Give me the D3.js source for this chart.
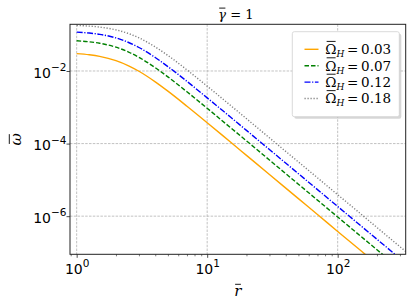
<!DOCTYPE html>
<html>
<head>
<meta charset="utf-8">
<script src="https://cdn.jsdelivr.net/npm/d3@7"></script>
<style>
  body { margin: 0; background: #fff; }
  svg { display: block; }
</style>
</head>
<body>
<svg id="chart" width="415" height="308"></svg>
<script>
// values (log-log)
const radii = [1, 1.25, 1.5, 2, 2.5, 3, 4, 5, 7, 10, 15, 20, 30, 50, 70, 100, 150, 200, 300, 350];
const omega003 = [0.0300, 0.0279, 0.0253, 0.0193, 0.0139, 0.00983, 0.00502, 0.00278, 0.00107, 3.76e-4, 1.12e-4, 4.74e-5, 1.41e-5, 3.04e-6, 1.11e-6, 3.8e-7, 1.13e-7, 4.75e-8, 1.41e-8, 8.9e-9];
const omega007 = [0.0680, 0.0637, 0.0581, 0.0453, 0.0332, 0.0238, 0.01234, 0.00689, 0.00267, 9.38e-4, 2.80e-4, 1.19e-4, 3.52e-5, 7.6e-6, 2.77e-6, 9.5e-7, 2.81e-7, 1.19e-7, 3.52e-8, 2.22e-8];
const omega012 = [0.1178, 0.1111, 0.1023, 0.0815, 0.0610, 0.0444, 0.0235, 0.01324, 0.00517, 1.82e-3, 5.46e-4, 2.31e-4, 6.85e-5, 1.48e-5, 5.39e-6, 1.85e-6, 5.48e-7, 2.31e-7, 6.85e-8, 4.31e-8];
const omega018 = [0.1797, 0.1722, 0.1620, 0.1359, 0.1074, 0.0818, 0.0460, 0.0268, 0.01072, 3.82e-3, 1.15e-3, 4.86e-4, 1.44e-4, 3.12e-5, 1.14e-5, 3.9e-6, 1.16e-6, 4.87e-7, 1.44e-7, 9.1e-8];
const omegaLabels = ["0.03", "0.07", "0.12", "0.18"];

const xMajor = [1, 10, 100];
const xMajorExp = ["0", "1", "2"];
const yMajor = [1e-2, 1e-4, 1e-6];
const yMajorExp = ["\u22122", "\u22124", "\u22126"];

const series = [
  { label: omegaLabels[0], values: omega003, color: "#ffa500", dash: null },
  { label: omegaLabels[1], values: omega007, color: "#008000", dash: "4.5,2" },
  { label: omegaLabels[2], values: omega012, color: "#0000ff", dash: "6,1.6,1.2,1.6" },
  { label: omegaLabels[3], values: omega018, color: "#808080", dash: "1.2,1.8" }
];

const svg = d3.select("#chart");
const m = { left: 70, top: 24.3, right: 405.7, bottom: 254.3 };
const plotW = m.right - m.left, plotH = m.bottom - m.top;

const x = d3.scaleLog().domain([0.889, 332]).range([m.left, m.right]);
const y = d3.scaleLog().domain([8.9e-8, 0.1934]).range([m.bottom, m.top]);

svg.append("defs").append("clipPath").attr("id", "plotclip")
  .append("rect").attr("x", m.left).attr("y", m.top).attr("width", plotW).attr("height", plotH);

// grid
const grid = svg.append("g").attr("stroke", "#a8a8a8").attr("stroke-width", 0.7).attr("stroke-dasharray", "2.5,1.3");
grid.selectAll("line.v").data(xMajor).enter().append("line")
  .attr("x1", d => x(d)).attr("x2", d => x(d)).attr("y1", m.top).attr("y2", m.bottom);
grid.selectAll("line.h").data(yMajor).enter().append("line")
  .attr("x1", m.left).attr("x2", m.right).attr("y1", d => y(d)).attr("y2", d => y(d));

// curves
const line = d3.line().x(d => x(d[0])).y(d => y(d[1])).curve(d3.curveMonotoneX);
const gLines = svg.append("g").attr("clip-path", "url(#plotclip)");
series.forEach(s => {
  gLines.append("path").datum(radii.map((r, i) => [r, s.values[i]]))
    .attr("fill", "none").attr("stroke", s.color).attr("stroke-width", 1.4)
    .attr("stroke-dasharray", s.dash).attr("d", line);
});

// minor x ticks
const xMinor = [];
[0.1, 1, 10, 100].forEach(dec => { for (let k = 2; k <= 9; k++) { const v = k * dec; if (v >= 0.889 && v <= 332) xMinor.push(v); } });
svg.append("g").attr("transform", `translate(0,${m.bottom})`)
  .call(d3.axisBottom(x).tickValues(xMinor).tickSize(2).tickSizeOuter(0).tickFormat(""))
  .call(g => g.select(".domain").remove())
  .call(g => g.selectAll("line").attr("stroke", "#222").attr("stroke-width", 0.6));

// major x ticks
svg.append("g").attr("transform", `translate(0,${m.bottom})`)
  .call(d3.axisBottom(x).tickValues(xMajor).tickSize(3.5).tickSizeOuter(0))
  .call(g => g.select(".domain").remove())
  .call(g => g.selectAll("line").attr("stroke", "#222").attr("stroke-width", 0.8))
  .call(g => g.selectAll("text").each(function(d, i) {
    const t = d3.select(this).attr("y", 19.7).attr("dy", null)
      .attr("font-family", "DejaVu Sans").attr("font-size", 14).attr("fill", "#000").text("10");
    t.append("tspan").attr("dy", -6.5).attr("font-size", 10.5).text(xMajorExp[i]);
  }));

// major y ticks
svg.append("g").attr("transform", `translate(${m.left},0)`)
  .call(d3.axisLeft(y).tickValues(yMajor).tickSize(3.5).tickSizeOuter(0))
  .call(g => g.select(".domain").remove())
  .call(g => g.selectAll("line").attr("stroke", "#222").attr("stroke-width", 0.8))
  .call(g => g.selectAll("text").each(function(d, i) {
    const t = d3.select(this).attr("x", -3.5).attr("y", 6.3).attr("dy", null)
      .attr("font-family", "DejaVu Sans").attr("font-size", 14).attr("fill", "#000").text("10");
    t.append("tspan").attr("dy", -6.5).attr("font-size", 10.5).text(yMajorExp[i]);
  }));

// frame
svg.append("rect").attr("x", m.left).attr("y", m.top).attr("width", plotW).attr("height", plotH)
  .attr("fill", "none").attr("stroke", "#222").attr("stroke-width", 1);

// draws a bar over the first glyph of a text element
const serif = "'DejaVu Serif', 'Liberation Serif', serif";
function addBar(textSel, parent, rise, size) {
  const ext = textSel.node().getExtentOfChar(0);
  const base = +textSel.attr("y") + (+textSel.attr("data-dy") || 0);
  parent.append("line")
    .attr("x1", ext.x + ext.width * 0.12).attr("x2", ext.x + ext.width * 0.92)
    .attr("y1", base - rise * size).attr("y2", base - rise * size)
    .attr("stroke", "#000").attr("stroke-width", 0.9);
}

// title
const title = svg.append("text").attr("x", (m.left + m.right) / 2 - 2).attr("y", 18.5).attr("text-anchor", "middle")
  .attr("font-family", serif).attr("font-size", 13);
title.append("tspan").attr("font-style", "italic").text("\u03b3");
title.append("tspan").text(" = 1");
addBar(title, svg, 0.8, 13);

// axis labels
const xl = svg.append("text").attr("x", (m.left + m.right) / 2).attr("y", 296).attr("text-anchor", "middle")
  .attr("font-family", serif).attr("font-size", 15).attr("font-style", "italic").text("r");
addBar(xl, svg, 0.78, 15);
const yg = svg.append("g").attr("transform", `translate(21,${(m.top + m.bottom) / 2}) rotate(-90)`);
const yl = yg.append("text").attr("x", 0).attr("y", 0).attr("text-anchor", "middle")
  .attr("font-family", serif).attr("font-size", 15).attr("font-style", "italic").text("\u03c9");
addBar(yl, yg, 0.78, 15);

// legend
const lg = svg.append("g");
lg.append("rect").attr("x", 294.3).attr("y", 33.7).attr("width", 107).attr("height", 85).attr("rx", 2)
  .attr("fill", "#bdbdbd").attr("opacity", 0.6);
lg.append("rect").attr("x", 292.3).attr("y", 31.7).attr("width", 107).attr("height", 85).attr("rx", 2)
  .attr("fill", "#fff").attr("stroke", "#d0d0d0").attr("stroke-width", 0.8);
series.forEach((s, i) => {
  const yy = 49.3 + i * 16.4;
  lg.append("line").attr("x1", 304.5).attr("x2", 318.5).attr("y1", yy).attr("y2", yy)
    .attr("stroke", s.color).attr("stroke-width", 1.4).attr("stroke-dasharray", s.dash);
  const t = lg.append("text").attr("x", 325.3).attr("y", yy + 4.8)
    .attr("font-family", serif).attr("font-size", 13.5);
  t.append("tspan").text("\u03a9");
  t.append("tspan").attr("dy", 3).attr("font-size", 9).attr("font-style", "italic").text("H");
  t.append("tspan").attr("dy", -3).text("\u2009=\u20090.03".replace("0.03", s.label));
  addBar(t, lg, 0.94, 13.5);
});
</script>
</body>
</html>
